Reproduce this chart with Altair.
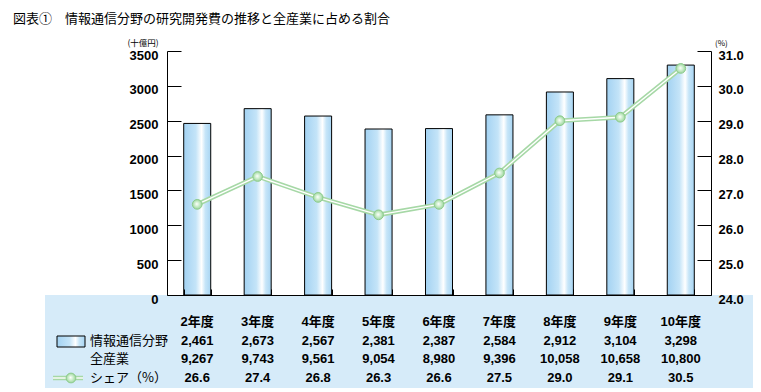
import altair as alt
import pandas as pd

years = ["2年度", "3年度", "4年度", "5年度", "6年度", "7年度", "8年度", "9年度", "10年度"]
rd = [2461, 2673, 2567, 2381, 2387, 2584, 2912, 3104, 3298]
total = [9267, 9743, 9561, 9054, 8980, 9396, 10058, 10658, 10800]
share = [26.6, 27.4, 26.8, 26.3, 26.6, 27.5, 29.0, 29.1, 30.5]
left_ticks = [0, 500, 1000, 1500, 2000, 2500, 3000, 3500]
right_ticks = [24, 25, 26, 27, 28, 29, 30, 31]

df = pd.DataFrame({"year": years, "rd": rd, "total": total, "share": share})
one = pd.DataFrame({"k": [0]})

W, H = 544, 244
NUMFONT = "Liberation Sans, Noto Sans CJK JP"
CJK = "Noto Sans CJK JP"

bar_grad = alt.Gradient(
    gradient="linear", x1=0, x2=1, y1=0, y2=0,
    stops=[
        alt.GradientStop(offset=0, color="#a3d2f2"),
        alt.GradientStop(offset=0.45, color="#c4e4f8"),
        alt.GradientStop(offset=0.66, color="#ffffff"),
        alt.GradientStop(offset=0.8, color="#c6e5f8"),
        alt.GradientStop(offset=1, color="#a8d5f3"),
    ],
)
pt_grad = alt.RadialGradient(
    gradient="radial", x1=0.45, y1=0.45, r1=0, x2=0.5, y2=0.5, r2=0.55,
    stops=[
        alt.GradientStop(offset=0, color="#ffffff"),
        alt.GradientStop(offset=0.5, color="#c8ecc8"),
        alt.GradientStop(offset=1, color="#92cf92"),
    ],
)

xaxis = alt.Axis(orient="top", offset=-H, labels=False, title=None, domainColor="black",
                 tickColor="black", tickSize=6, tickBand="extent", domainWidth=1,
                 tickWidth=1, zindex=1, grid=False)
X = alt.X("year:N", sort=years,
          scale=alt.Scale(paddingInner=0.553, paddingOuter=0.2765), axis=xaxis)

yL = alt.Axis(orient="right", offset=-W, values=left_ticks, format="d", tickSize=14,
              labelPadding=-23, labelAlign="right", labelBaseline="middle", labelOffset=4,
              labelFont=NUMFONT, labelFontWeight="bold", labelFontSize=13,
              labelColor="black", domainColor="black", tickColor="black", title=None,
              grid=False, zindex=1, labelOverlap=False, labelFlush=False)
yR = alt.Axis(orient="left", offset=-W, values=right_ticks, format=".1f", tickSize=14,
              labelPadding=-21, labelAlign="left", labelBaseline="middle", labelOffset=4,
              labelFont=NUMFONT, labelFontWeight="bold", labelFontSize=13,
              labelColor="black", domainColor="black", tickColor="black", title=None,
              grid=False, zindex=1, labelOverlap=False, labelFlush=False)
YR = alt.Y("share:Q", scale=alt.Scale(domain=[24, 31]), axis=yR)

bg = alt.Chart(one).mark_rect(color="#d6ebf9").encode(
    x=alt.value(-122), x2=alt.value(620), y=alt.value(H), y2=alt.value(H + 96))

bars = alt.Chart(df).mark_bar(fill=bar_grad, stroke="black", strokeWidth=1).encode(
    x=X, y=alt.Y("rd:Q", scale=alt.Scale(domain=[0, 3500]), axis=yL))

line_g = alt.Chart(df).mark_line(color="#a6d8a6", strokeWidth=4.5).encode(x=X, y=YR)
line_w = alt.Chart(df).mark_line(color="#ffffff", strokeWidth=1.4).encode(x=X, y=YR)
pts = alt.Chart(df).mark_point(filled=True, fill=pt_grad, stroke="#8ccc8c", strokeWidth=1,
                               size=95, opacity=1).encode(x=X, y=YR)
share_layer = alt.layer(line_g, line_w, pts)


def row(text_enc, ypix):
    return alt.Chart(df).mark_text(font=NUMFONT, fontWeight="bold", fontSize=13,
                                   align="center", baseline="middle", color="black").encode(
        x=X, y=alt.value(ypix), text=text_enc)


r_year = row(alt.Text("year:N"), 271)
r_rd = row(alt.Text("rd:Q", format=","), 290)
r_tot = row(alt.Text("total:Q", format=","), 308)
r_sh = row(alt.Text("share:Q", format=".1f"), 327)


def label(txt, x, y, size=13, font=CJK, weight="normal", align="left"):
    return alt.Chart(one).mark_text(text=txt, font=font, fontSize=size, fontWeight=weight,
                                    align=align, baseline="middle", color="black").encode(
        x=alt.value(x), y=alt.value(y))


title = label("図表①　情報通信分野の研究開発費の推移と全産業に占める割合", -154, -32.5, size=13)
unitL = label("(十億円)", -24, -8, size=8.5, align="center")
unitR = label("(%)", 548, -7, size=8, align="left")
lg1 = label("情報通信分野", -77, 290, size=13)
lg2 = label("全産業", -77, 308, size=13)
lg3 = label("シェア（%）", -77, 327, size=13)

sw_bar = alt.Chart(one).mark_rect(fill=bar_grad, stroke="black", strokeWidth=1).encode(
    x=alt.value(-110), x2=alt.value(-82), y=alt.value(285), y2=alt.value(296))
sw_lg = alt.Chart(one).mark_rule(color="#a6d8a6", strokeWidth=4.5).encode(
    x=alt.value(-114), x2=alt.value(-84), y=alt.value(327))
sw_lw = alt.Chart(one).mark_rule(color="#ffffff", strokeWidth=1.4).encode(
    x=alt.value(-114), x2=alt.value(-84), y=alt.value(327))
sw_pt = alt.Chart(one).mark_point(filled=True, fill=pt_grad, stroke="#8ccc8c", strokeWidth=1,
                                  size=95, opacity=1).encode(x=alt.value(-96), y=alt.value(327))

chart = alt.layer(
    bg, bars, share_layer, r_year, r_rd, r_tot, r_sh,
    title, unitL, unitR, lg1, lg2, lg3, sw_bar, sw_lg, sw_lw, sw_pt
).resolve_scale(y="independent").properties(
    width=W, height=H,
    padding={"left": 159, "top": 43, "right": 42, "bottom": 93},
    autosize=alt.AutoSizeParams(type="none"),
).configure_view(stroke=None)

chart.save("out.html", embed_options={"renderer": "svg", "actions": False})
